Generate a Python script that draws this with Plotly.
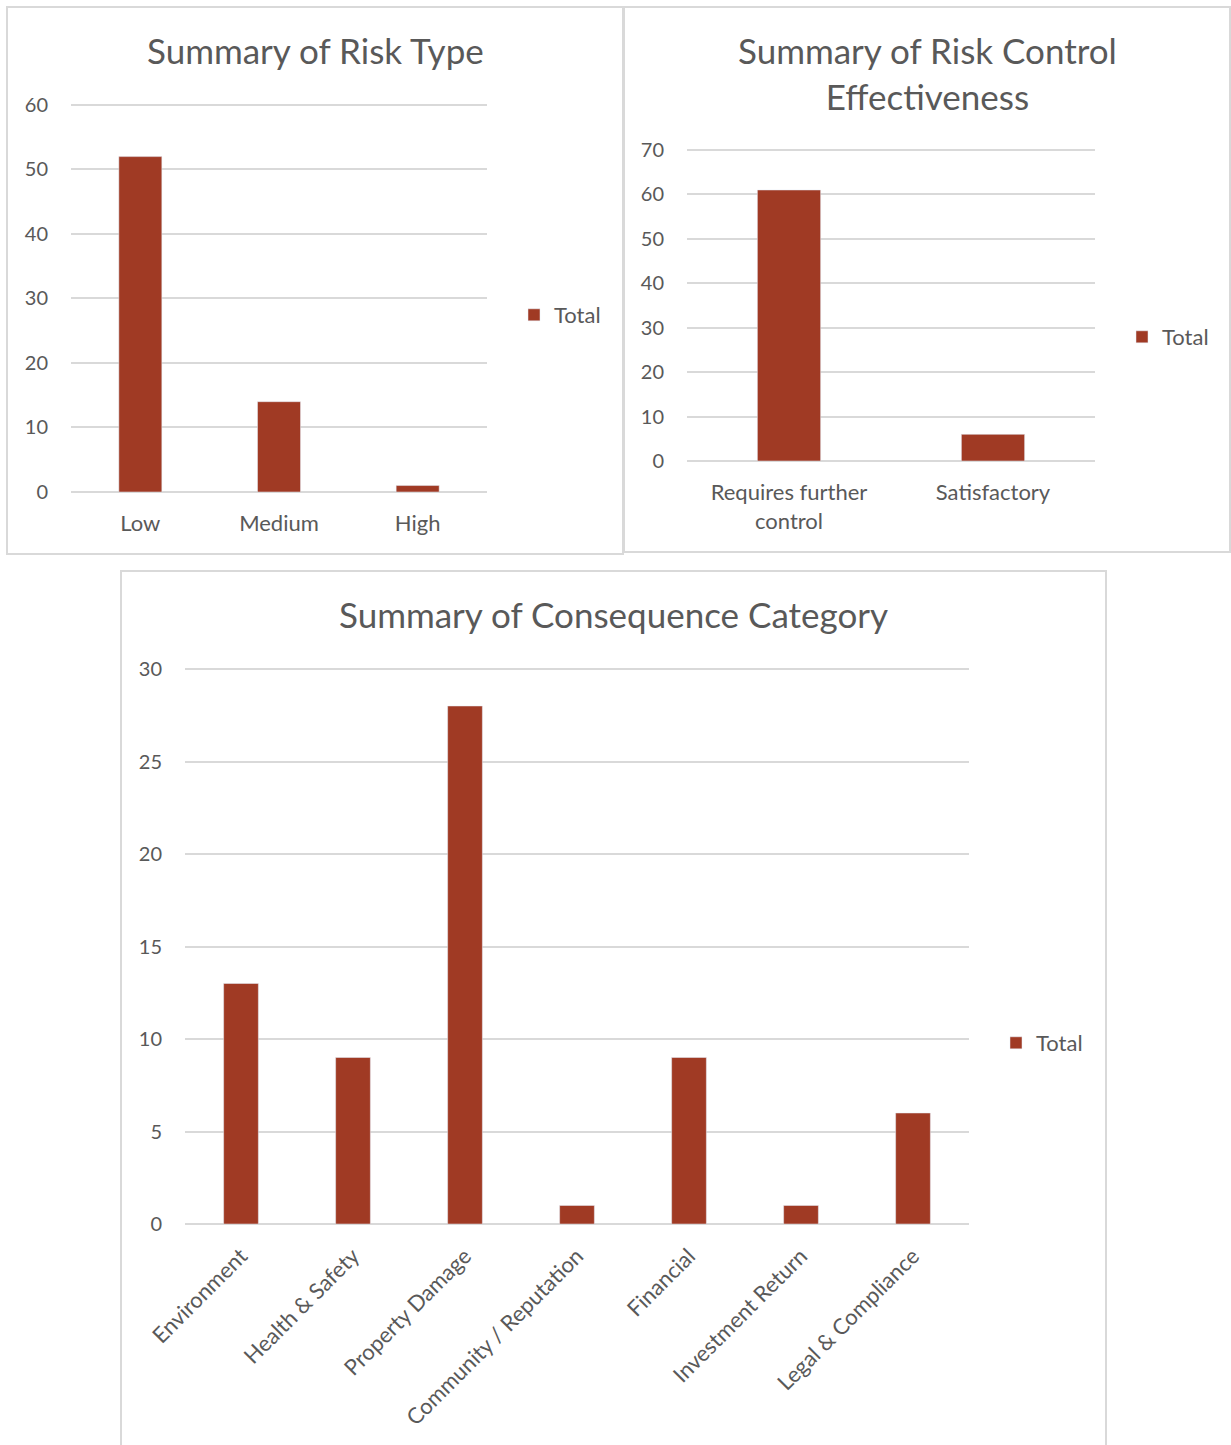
import plotly.graph_objects as go

W, H = 1231, 1445

# Data
risk_type_cats = ["Low", "Medium", "High"]
risk_type_vals = [52, 14, 1]

control_cats = ["Requires further<br>control", "Satisfactory"]
control_vals = [61, 6]

consequence_cats = ["Environment", "Health & Safety", "Property Damage",
                    "Community / Reputation", "Financial", "Investment Return",
                    "Legal & Compliance"]
consequence_vals = [13, 9, 28, 1, 9, 1, 6]

BAR = "#A03A24"
GRID = "#D9D9D9"
TXT = "#595959"
FONT = "Lato"


def px_x(x):
    return x / W


def px_y(y):
    return (H - y) / H


def y_domain(px_zero, px_top, top_val, range_max):
    # domain so that value 0 sits at px_zero and top_val at px_top, with range up to range_max
    per_unit = (px_zero - px_top) / top_val
    px_range_top = px_zero - per_unit * range_max
    return [px_y(px_zero), px_y(px_range_top)]


fig = go.Figure()
fig.add_trace(go.Bar(x=risk_type_cats, y=risk_type_vals, name="Total",
                     marker_color=BAR, xaxis="x", yaxis="y", legend="legend"))
fig.add_trace(go.Bar(x=control_cats, y=control_vals, name="Total",
                     marker_color=BAR, xaxis="x2", yaxis="y2", legend="legend2"))
fig.add_trace(go.Bar(x=consequence_cats, y=consequence_vals, name="Total",
                     marker_color=BAR, xaxis="x3", yaxis="y3", legend="legend3"))

axis_common = dict(showgrid=False, showline=False, zeroline=False, ticks="",
                   automargin=False,
                   tickfont=dict(family=FONT, size=22, color=TXT), fixedrange=True)
yaxis_common = dict(showgrid=True, gridcolor=GRID, gridwidth=2, zeroline=True,
                    zerolinecolor=GRID, zerolinewidth=2, showline=False, ticks="",
                    automargin=False,
                    tickfont=dict(family=FONT, size=20, color=TXT), fixedrange=True)

legend_common = dict(font=dict(family=FONT, size=22, color=TXT), bgcolor="rgba(0,0,0,0)",
                     xanchor="left", yanchor="middle", itemwidth=30,
                     xref="container", yref="container")

r1, r2, r3 = 60.3, 70.35, 30.12

fig.update_layout(
    width=W, height=H,
    margin=dict(l=0, r=0, t=0, b=0, autoexpand=False),
    paper_bgcolor="white", plot_bgcolor="white",
    bargap=0.69,
    showlegend=True,
    xaxis=dict(axis_common, domain=[px_x(71), px_x(487)], anchor="y", ticklabelstandoff=16),
    yaxis=dict(yaxis_common, domain=y_domain(492, 105, 60, r1), anchor="x", range=[0, r1],
               dtick=10, ticklabelstandoff=22),
    xaxis2=dict(axis_common, domain=[px_x(687), px_x(1095)], anchor="y2", ticklabelstandoff=16),
    yaxis2=dict(yaxis_common, domain=y_domain(461, 150, 70, r2), anchor="x2", range=[0, r2],
                dtick=10, ticklabelstandoff=22),
    xaxis3=dict(axis_common, domain=[px_x(185), px_x(969)], anchor="y3", tickangle=-45,
                ticklabelstandoff=14),
    yaxis3=dict(yaxis_common, domain=y_domain(1224, 669, 30, r3), anchor="x3", range=[0, r3],
                dtick=5, ticklabelstandoff=22),
    legend=dict(legend_common, x=px_x(514), y=px_y(315)),
    legend2=dict(legend_common, x=px_x(1122), y=px_y(337)),
    legend3=dict(legend_common, x=px_x(996), y=px_y(1043)),
)

# Chart borders
for (x0, y0, x1, y1) in [(7, 7, 623, 554), (624, 7, 1230, 552), (121, 571, 1106, 1460)]:
    fig.add_shape(type="rect", xref="paper", yref="paper",
                  x0=px_x(x0), x1=px_x(x1), y0=px_y(y1), y1=px_y(y0),
                  line=dict(color=GRID, width=2), fillcolor="rgba(0,0,0,0)", layer="below")

# Titles
titles = [("Summary of Risk Type", 315, 50),
          ("Summary of Risk Control<br>Effectiveness", 927, 73),
          ("Summary of Consequence Category", 613, 614)]
for text, x, y in titles:
    fig.add_annotation(text=text, xref="paper", yref="paper", x=px_x(x), y=px_y(y),
                       xanchor="center", yanchor="middle", showarrow=False,
                       font=dict(family=FONT, size=35, color=TXT))

fig.write_html("out.html")
